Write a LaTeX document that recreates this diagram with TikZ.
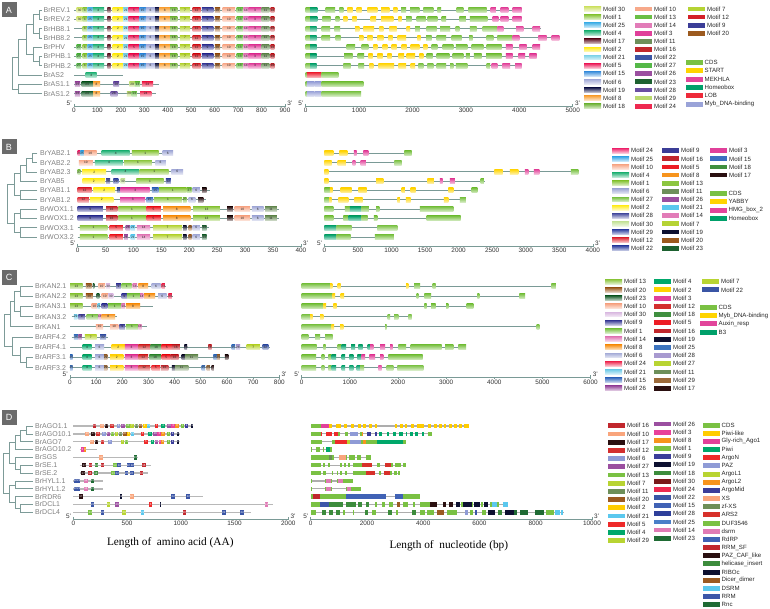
\documentclass[tikz,border=0pt]{standalone}
\usepackage{fontspec}
\setmainfont{Liberation Serif}
\setsansfont{Liberation Sans}

% MEME motif colours (set of panel A, changed per panel below)
\definecolor{m1}{HTML}{8CC63F}
\definecolor{m2}{HTML}{FFEB1A}
\definecolor{m3}{HTML}{E0409A}
\definecolor{m4}{HTML}{2EB67D}
\definecolor{m5}{HTML}{EC1C5A}
\definecolor{m6}{HTML}{A5ACD8}
\definecolor{m7}{HTML}{B5D334}
\definecolor{m8}{HTML}{F9A33A}
\definecolor{m9}{HTML}{3B3D97}
\definecolor{m10}{HTML}{F7A98A}
\definecolor{m11}{HTML}{6D8F5A}
\definecolor{m12}{HTML}{D32027}
\definecolor{m13}{HTML}{6ABF45}
\definecolor{m14}{HTML}{E27CB8}
\definecolor{m15}{HTML}{3D8FDC}
\definecolor{m16}{HTML}{C1272D}
\definecolor{m17}{HTML}{6B2332}
\definecolor{m18}{HTML}{78B843}
\definecolor{m19}{HTML}{1B1E4F}
\definecolor{m20}{HTML}{9C5A1F}
\definecolor{m21}{HTML}{7FD3E8}
\definecolor{m22}{HTML}{3A55A5}
\definecolor{m23}{HTML}{1D6130}
\definecolor{m24}{HTML}{EE2950}
\definecolor{m25}{HTML}{4CB4E8}
\definecolor{m26}{HTML}{9B4FA0}
\definecolor{m27}{HTML}{55B848}
\definecolor{m28}{HTML}{6A4EA2}
\definecolor{m29}{HTML}{BADA6E}
\definecolor{m30}{HTML}{CFE26A}
% domain colours
\definecolor{dcds}{HTML}{7AC143}
\definecolor{dstart}{HTML}{FFD400}
\definecolor{dmekhla}{HTML}{E2459B}
\definecolor{dhbox}{HTML}{00A06A}
\definecolor{dlob}{HTML}{EE2A3A}
\definecolor{dmyblav}{HTML}{9AA3D8}
\definecolor{dyabby}{HTML}{FFD400}
\definecolor{dhmg}{HTML}{E2459B}
\definecolor{dmybyel}{HTML}{FFD400}
\definecolor{dauxin}{HTML}{E2459B}
\definecolor{dbthree}{HTML}{00A06A}
\definecolor{dpiwil}{HTML}{FFCC00}
\definecolor{dglyrich}{HTML}{E2409A}
\definecolor{dpiwi}{HTML}{00A86B}
\definecolor{dargon}{HTML}{EE2A2A}
\definecolor{dpaz}{HTML}{8F9BD6}
\definecolor{dargolone}{HTML}{B8D432}
\definecolor{dargoltwo}{HTML}{F7941D}
\definecolor{dargomid}{HTML}{3A3D9A}
\definecolor{dxs}{HTML}{F9A57C}
\definecolor{dzfxs}{HTML}{6E8F57}
\definecolor{darstwo}{HTML}{D7302A}
\definecolor{dduf}{HTML}{7AC143}
\definecolor{ddsrmp}{HTML}{E07BB5}
\definecolor{drdrp}{HTML}{4062B5}
\definecolor{drrmsf}{HTML}{C1272D}
\definecolor{dpazcaf}{HTML}{2A0F10}
\definecolor{dhelins}{HTML}{3C8C3C}
\definecolor{driboc}{HTML}{0D1030}
\definecolor{ddicer}{HTML}{9B5A22}
\definecolor{ddsrmb}{HTML}{5BC8EE}
\definecolor{drrm}{HTML}{3C56A8}
\definecolor{drnc}{HTML}{1F6B34}
\definecolor{treecol}{HTML}{7D9B98}
\definecolor{axcol}{HTML}{7A9A96}

\def\bh{2.5}
% motif row: key, y, from, to, start/end/motif
\newcommand{\motifrow}[5]{%
  \draw[bbone] (#3,#2) -- (#4,#2);
  \edef\motlist{#5}%
  \foreach \s/\e/\m [count=\i] in \motlist {
    \path[mbox=m\m] (\s,#2-\bh) rectangle (\e,#2+\bh);
    \node[mnum] (#1-\i) at ({(\s+\e)/2},#2) {\m};
  }}
% exon row: y, length, start/end/domain
\newcommand{\exonrow}[3]{%
  \draw[gbone] (0,#1) -- (#2,#1);
  \edef\exlist{#3}%
  \foreach \s/\e/\c in \exlist {
    \path[exon=d\c] (\s,#1-\bh) rectangle (\e,#1+\bh);
  }}
% scale bar: key, y, max, step
\newcommand{\seqaxis}[4]{%
  \draw[axline] (0,#2-2.2) -- (0,#2) -- (#3,#2) -- (#3,#2-2.2);
  \foreach \tk in {0,#4,...,#3}
    \draw[axline] (\tk,#2) -- (\tk,#2+1.2) node[ticklbl] (#1-t\tk) {\tk};
  \node[endlbl, anchor=south east, xshift=-1.5pt] (#1-five) at (0,#2) {5'};
  \node[endlbl, anchor=south west, xshift=1.5pt] (#1-three) at (#3,#2) {3'};
}
% legend column: key, x, y0, dy, swatch style, motifs
\newcommand{\legcol}[6]{%
  \foreach \m [count=\i from 0] in {#6} {
    \path[#5=m\m] (#2,{#3+#4*\i-2.4}) rectangle ++(17,4.8);
    \node[legtxt] (#1-\m) at ({#2+19},{#3+#4*\i}) {Motif \m};
  }}
% domain legend: key, x, y0, dy, colour/label
\newcommand{\domleg}[5]{%
  \foreach \c/\lab [count=\i from 0] in {#5} {
    \fill[fill=d\c] (#2,{#3+#4*\i-2.5}) rectangle ++(16.5,5);
    \node[legtxt] (#1-\i) at ({#2+18.5},{#3+#4*\i}) {\lab};
  }}

\newcommand*{\hdzip}{37/57/1, 57/80/25, 80/128/4, 142/156/17, 165/210/2, 210/232/21,
  232/279/5, 279/307/15, 307/346/6, 346/364/19, 364/410/8, 410/441/18, 452/495/7,
  506/540/12, 545/594/9, 601/623/20, 634/687/10, 694/722/13, 722/744/14, 744/800/3,
  800/833/11, 839/855/16}

\begin{document}
\begin{tikzpicture}[
  x=1pt, y=-1pt,
  tree/.style={draw=treecol, line width=0.7pt},
  gname/.style={font=\sffamily\fontsize{7}{8}\selectfont, text=black!50, anchor=west, inner sep=0pt},
  panel/.style={fill=black!58, text=white, font=\sffamily\fontsize{9}{9}\selectfont,
    minimum width=15pt, minimum height=15pt, inner sep=0pt},
  bbone/.style={draw=axcol, line width=0.8pt},
  gbone/.style={draw=axcol, line width=0.8pt},
  mbox/.style={top color=#1, bottom color=#1!25},
  sbox/.style={fill=#1},
  exon/.style={top color=#1, bottom color=#1!30},
  mnum/.style={font=\sffamily\fontsize{3.2}{3.2}\selectfont, inner sep=0pt, text=black!85},
  axline/.style={draw=axcol, line width=0.7pt},
  ticklbl/.style={font=\sffamily\fontsize{6.4}{7}\selectfont, anchor=north, inner sep=0.8pt, text=black!80},
  endlbl/.style={font=\sffamily\fontsize{6.4}{7}\selectfont, inner sep=0.6pt, text=black!80},
  legtxt/.style={font=\sffamily\fontsize{6.1}{7}\selectfont, anchor=west, inner sep=0pt, text=black!85},
  axtitle/.style={font=\rmfamily\fontsize{11.3}{13}\selectfont},
]
\fill[white] (0,0) rectangle (770,609);
\useasboundingbox (0,0) rectangle (770,609);

%% --- A: HD-ZIP III and AS ------------------------------------------
\begin{scope}
\node[panel] (pA) at (9,10) {A};
\draw[tree] (42,10) -| (39,19.3) -- (42,19.3);
\draw[tree] (42,28.6) -| (39,37.9) -- (42,37.9);
\draw[tree] (39,14.65) -| (33,33.25) -- (39,33.25);
\draw[tree] (42,56.5) -| (39,65.8) -- (42,65.8);
\draw[tree] (42,47.2) -| (33,61.15) -- (39,61.15);
\draw[tree] (33,23.95) -| (26,54.18) -- (33,54.18);
\draw[tree] (26,39.06) -| (18.5,75.1) -- (42,75.1);
\draw[tree] (42,84.4) -| (18.5,93.7) -- (42,93.7);
\draw[tree] (18.5,57.08) -| (12.3,89.05) -- (18.5,89.05);
\foreach \g [count=\i from 0] in {BrREV.1,BrREV.2,BrHB8.1,BrHB8.2,BrPHV,BrPHB.1,BrPHB.2,BrAS2,BrAS1.1,BrAS1.2}
  \node[gname] (gA\i) at (43.5,{10+9.3*\i}) {\g};

\begin{scope}[shift={(74pt,0pt)}, x=0.23444pt]
  \motifrow{pA1}{10}{0}{857}{11/37/30, \hdzip}
  \motifrow{pA2}{19.3}{0}{857}{11/37/30, \hdzip}
  \motifrow{pA3}{28.6}{0}{857}{\hdzip}
  \motifrow{pA4}{37.9}{0}{857}{\hdzip}
  \motifrow{pA5}{47.2}{0}{857}{11/30/27, \hdzip}
  \motifrow{pA6}{56.5}{0}{857}{11/30/27, \hdzip}
  \motifrow{pA7}{65.8}{0}{857}{11/30/27, \hdzip}
  \motifrow{pA8}{75.1}{0}{208}{50/97/4}
  \motifrow{pA9}{84.4}{0}{364}{4/26/26, 33/80/23, 82/111/8, 168/193/28, 236/260/29, 260/282/13, 289/338/24}
  \motifrow{pA10}{93.7}{0}{350}{4/26/26, 33/80/23, 82/111/8, 156/185/28, 225/246/29, 246/268/13, 282/330/24}
  \seqaxis{axA}{106}{900}{100}
\end{scope}

\begin{scope}[shift={(305.7pt,0pt)}, x=0.0534pt]
  \exonrow{10}{4057}{0/81/cds, 81/218/hbox, 374/549/cds, 630/705/cds, 780/880/start, 955/1048/start, 1154/1342/start, 1410/1566/start, 1641/1716/start, 1785/1878/cds, 1953/2128/cds, 2203/2390/cds, 2465/2534/cds, 2827/2952/cds, 3046/3388/cds, 3463/3563/mekhla, 3650/3794/mekhla, 3875/4045/mekhla}
  \exonrow{19.3}{4057}{0/81/cds, 81/218/hbox, 312/468/cds, 562/630/cds, 705/780/start, 874/955/start, 1217/1317/start, 1410/1641/start, 1735/1797/start, 1878/1984/cds, 2078/2246/cds, 2284/2465/cds, 2546/2627/cds, 2877/3001/cds, 3076/3401/cds, 3501/3607/mekhla, 3650/3794/mekhla, 3875/4045/mekhla}
  \exonrow{28.6}{4400}{0/81/cds, 81/206/hbox, 300/456/cds, 537/643/cds, 924/1005/start, 1080/1279/start, 1379/1454/start, 1566/1704/start, 1891/1953/start, 2047/2140/cds, 2265/2452/cds, 2515/2702/cds, 2808/2877/cds, 3076/3201/cds, 3313/3588/cds, 3588/3700/mekhla, 3939/4076/mekhla, 4251/4388/mekhla}
  \exonrow{37.9}{4750}{0/81/cds, 81/206/hbox, 300/456/cds, 562/655/cds, 998/1080/start, 1154/1254/start, 1342/1454/start, 1548/1629/start, 1722/1878/start, 2090/2153/start, 2253/2359/cds, 2452/2627/cds, 2733/2920/cds, 3058/3126/cds, 3388/3513/cds, 3588/3875/cds, 3875/4001/mekhla, 4357/4513/mekhla, 4607/4750/mekhla}
  \exonrow{47.2}{4388}{0/81/cds, 81/206/hbox, 768/924/cds, 1048/1173/cds, 1267/1342/start, 1441/1529/start, 1610/1704/start, 1797/1891/start, 1966/2128/start, 2203/2278/start, 2359/2465/cds, 2565/2764/cds, 2814/3026/cds, 3108/3326/cds, 3388/3669/cds, 3750/3875/mekhla, 4001/4138/mekhla, 4251/4388/mekhla}
  \exonrow{56.5}{4326}{0/81/cds, 81/206/hbox, 718/880/cds, 973/1092/cds, 1173/1254/start, 1342/1441/start, 1529/1610/start, 1735/1841/start, 1891/2047/start, 2128/2203/start, 2265/2377/cds, 2452/2689/cds, 2752/2952/cds, 3001/3076/cds, 3151/3295/cds, 3376/3669/cds, 3750/3875/mekhla, 3982/4107/mekhla, 4188/4326/mekhla}
  \exonrow{65.8}{4057}{0/81/cds, 81/206/hbox, 705/842/cds, 986/1092/cds, 1192/1267/start, 1360/1654/start, 1735/1878/start, 1966/2047/start, 2109/2203/cds, 2278/2390/cds, 2452/2627/cds, 2702/2764/cds, 2814/3026/cds, 3388/3451/cds, 3482/3588/mekhla, 3682/3826/mekhla, 3919/4045/mekhla}
  \exonrow{75.1}{612}{0/20/cds, 20/300/lob, 300/612/cds}
  \exonrow{84.4}{1080}{0/20/cds, 20/160/myblav, 165/300/myblav, 300/1080/cds}
  \exonrow{93.7}{1036}{0/20/cds, 20/160/myblav, 165/300/myblav, 300/1036/cds}
  \seqaxis{axAg}{106}{5000}{1000}
\end{scope}

\legcol{lA1}{584}{9}{8.1}{mbox}{30,1,25,4,17,2,21,5,15,6,19,8,18}
\legcol{lA2}{635}{9}{8.1}{sbox}{10,13,14,3,11,16,22,27,26,23,28,29,24}
\legcol{lA3}{688}{9}{8.1}{sbox}{7,12,9,20}
\domleg{dA}{686}{62.3}{8.4}{cds/CDS, start/START, mekhla/MEKHLA, hbox/Homeobox, lob/LOB, myblav/Myb\_DNA-binding}
\end{scope}

%% --- B: YABBY and WOX ----------------------------------------------
\begin{scope}
\definecolor{m24}{HTML}{EE2A70}\definecolor{m25}{HTML}{38A6E6}
\definecolor{m27}{HTML}{7AC143}\definecolor{m28}{HTML}{4A4FA0}
\definecolor{m30}{HTML}{C5E39A}\definecolor{m29}{HTML}{3A4AA5}
\definecolor{m12}{HTML}{E0323C}\definecolor{m22}{HTML}{3A4AA5}
\definecolor{m5}{HTML}{ED1C24}\definecolor{m8}{HTML}{F7941D}
\definecolor{m13}{HTML}{8CC63F}\definecolor{m21}{HTML}{5BC8EE}
\definecolor{m19}{HTML}{0D1030}\definecolor{m15}{HTML}{3C6FC0}
\definecolor{m18}{HTML}{3F8F3F}\definecolor{m17}{HTML}{2A0F10}
\node[panel] (pB) at (9,147) {B};
\draw[tree] (37.3,153.3) -| (32.3,162.6) -- (37.3,162.6);
\draw[tree] (32.3,157.95) -| (26.7,171.9) -- (37.3,171.9);
\draw[tree] (26.7,164.93) -| (20.7,181.2) -- (37.3,181.2);
\draw[tree] (37.3,190.5) -| (20.7,199.8) -- (37.3,199.8);
\draw[tree] (20.7,173.06) -| (14,195.15) -- (20.7,195.15);
\draw[tree] (37.3,209.1) -| (20.7,218.4) -- (37.3,218.4);
\draw[tree] (37.3,227.7) -| (20.7,237) -- (37.3,237);
\draw[tree] (20.7,213.75) -| (14,232.35) -- (20.7,232.35);
\draw[tree] (14,184.1) -| (7,223.05) -- (14,223.05);
\foreach \g [count=\i from 0] in {BrYAB2.1,BrYAB2.2,BrYAB2.3,BrYAB5,BrYAB1.1,BrYAB1.2,BrWOX1.1,BrWOX1.2,BrWOX3.1,BrWOX3.2}
  \node[gname] (gB\i) at (40,{153.3+9.3*\i}) {\g};

\begin{scope}[shift={(77.7pt,0pt)}, x=0.558pt]
  \motifrow{pB1}{153.3}{0}{171}{0/5/24, 5/11/25, 11/34/10, 43/93/4, 97/145/1, 152/171/6}
  \motifrow{pB2}{162.6}{2}{158}{2/27/10, 31/81/4, 83/133/1, 139/158/6}
  \motifrow{pB3}{171.9}{0}{189}{0/5/27, 8/51/2, 61/110/4, 111/163/1, 168/189/6}
  \motifrow{pB4}{181.2}{8}{167}{9/49/2, 51/58/28, 64/73/29, 77/85/30, 105/154/1, 158/167/22}
  \motifrow{pB5}{190.5}{0}{237}{0/25/12, 28/67/2, 70/77/22, 77/129/3, 133/145/15, 146/195/1, 196/204/27, 206/219/6, 223/231/17}
  \motifrow{pB6}{199.8}{0}{230}{0/20/12, 22/64/2, 76/121/3, 123/135/15, 137/187/1, 189/195/27, 199/211/6, 216/225/17}
  \motifrow{pB7}{209.1}{0}{360}{0/45/9, 51/71/16, 73/122/1, 123/149/5, 153/202/8, 207/255/13, 268/278/17, 281/309/10, 312/333/6, 336/357/11}
  \motifrow{pB8}{218.4}{0}{360}{0/45/9, 51/71/16, 73/122/1, 123/149/5, 153/202/8, 207/255/13, 268/278/17, 281/309/10, 312/333/6, 336/357/11}
  \motifrow{pB9}{227.7}{0}{235}{4/53/1, 57/81/5, 86/94/26, 95/103/21, 106/130/14, 135/187/7, 189/195/19, 199/204/20, 206/219/6, 223/231/23}
  \motifrow{pB10}{237}{0}{231}{4/53/1, 57/81/5, 83/90/26, 95/103/21, 106/130/14, 135/187/7, 189/195/19, 199/204/20, 206/219/6, 223/231/23}
  \seqaxis{axB}{246}{400}{50}
\end{scope}

\begin{scope}[shift={(324.3pt,0pt)}, x=0.067143pt]
  \exonrow{153.3}{1301}{0/134/yabby, 223/343/yabby, 442/482/hmg, 581/655/hmg, 1192/1301/cds}
  \exonrow{162.6}{1152}{0/109/yabby, 199/323/yabby, 422/462/hmg, 541/621/hmg, 1043/1152/cds}
  \exonrow{171.9}{3783}{0/60/yabby, 2532/2656/yabby, 2765/2889/yabby, 2988/3038/hmg, 3122/3202/hmg, 3674/3783/cds}
  \exonrow{181.2}{2393}{0/60/yabby, 770/879/yabby, 1534/1633/yabby, 1723/1763/hmg, 1872/1946/hmg, 2329/2378/cds}
  \exonrow{190.5}{2279}{0/84/cds, 84/124/yabby, 243/407/yabby, 506/631/yabby, 1152/1201/yabby, 1286/1360/yabby, 1847/1921/yabby, 2194/2279/cds}
  \exonrow{199.8}{2110}{0/74/cds, 74/109/yabby, 208/357/yabby, 447/571/yabby, 1087/1127/yabby, 1216/1286/yabby, 1782/1847/yabby, 2021/2110/cds}
  \exonrow{209.1}{1921}{0/134/cds, 308/382/cds, 382/556/hbox, 556/665/cds, 770/819/cds, 1425/1921/cds}
  \exonrow{218.4}{2031}{0/134/cds, 283/357/cds, 357/556/hbox, 556/645/cds, 740/790/cds, 1524/2031/cds}
  \exonrow{227.7}{1087}{0/184/hbox, 184/407/cds, 789/1087/cds}
  \exonrow{237}{1038}{0/184/hbox, 184/392/cds, 755/1038/cds}
  \seqaxis{axBg}{246}{4000}{500}
\end{scope}

\legcol{lB1}{612}{150.7}{8.13}{mbox}{24,25,10,4,1,6,27,2,28,30,29,12,22}
\legcol{lB2}{662}{150.7}{8.13}{sbox}{9,16,5,8,13,11,26,21,14,7,19,20,23}
\legcol{lB3}{710}{150.7}{8.13}{sbox}{3,15,18,17}
\domleg{dB}{710}{193.3}{8.45}{cds/CDS, yabby/YABBY, hmg/HMG\_box\_2, hbox/Homeobox}
\end{scope}

%% --- C: KANADI and ARF ---------------------------------------------
\begin{scope}
\definecolor{m13}{HTML}{8CC63F}\definecolor{m30}{HTML}{D9B8E0}
\definecolor{m1}{HTML}{7AC143}\definecolor{m8}{HTML}{F7941D}
\definecolor{m21}{HTML}{6FCBE8}\definecolor{m15}{HTML}{3C6FC0}
\definecolor{m4}{HTML}{00A86B}\definecolor{m2}{HTML}{FFD200}
\definecolor{m12}{HTML}{D32F2F}\definecolor{m18}{HTML}{3F8F3F}
\definecolor{m5}{HTML}{ED1C24}\definecolor{m19}{HTML}{0D1030}
\definecolor{m25}{HTML}{3C74C0}\definecolor{m28}{HTML}{A89AD0}
\definecolor{m27}{HTML}{B8D432}\definecolor{m29}{HTML}{9C6A3A}
\definecolor{m17}{HTML}{2A0F10}\definecolor{m7}{HTML}{B8D432}
\node[panel] (pC) at (9,277.5) {C};
\draw[tree] (32.7,286) -| (20.7,296.2) -- (32.7,296.2);
\draw[tree] (32.7,306.4) -| (20.7,316.6) -- (32.7,316.6);
\draw[tree] (20.7,291.1) -| (14,311.5) -- (20.7,311.5);
\draw[tree] (14,301.3) -| (10,326.8) -- (32.7,326.8);
\draw[tree] (32.7,357.4) -| (26.7,367.6) -- (32.7,367.6);
\draw[tree] (32.7,347.2) -| (20.7,362.5) -- (26.7,362.5);
\draw[tree] (32.7,337) -| (12,354.85) -- (20.7,354.85);
\draw[tree] (10,314.05) -| (4,345.93) -- (12,345.93);
\foreach \g [count=\i from 0] in {BrKAN2.1,BrKAN2.2,BrKAN3.1,BrKAN3.2,BrKAN1,BrARF4.2,BrARF4.1,BrARF3.1,BrARF3.2}
  \node[gname] (gC\i) at (35,{286+10.2*\i}) {\g};

\begin{scope}[shift={(70pt,0pt)}, x=0.26163pt]
  \motifrow{pC1}{286}{0}{366}{0/48/13, 61/83/20, 87/93/23, 108/134/10, 138/153/30, 176/194/9, 197/236/1, 239/257/14, 261/299/8, 312/346/6, 350/363/24}
  \motifrow{pC2}{296.2}{0}{392}{0/48/13, 61/87/20, 102/112/23, 121/146/10, 146/166/30, 197/217/9, 217/268/1, 268/280/14, 283/325/8, 337/369/6, 376/389/24}
  \motifrow{pC3}{306.4}{0}{318}{0/48/13, 83/104/10, 106/115/21, 121/143/9, 146/197/1, 197/210/14, 214/268/8}
  \motifrow{pC4}{316.6}{6}{181}{15/28/21, 32/57/9, 64/108/1, 108/121/14, 121/172/8}
  \motifrow{pC5}{326.8}{0}{293}{99/127/10, 153/185/10, 189/210/9, 214/261/1, 261/274/14}
  \motifrow{pC6}{337}{6}{146}{15/32/25, 32/45/26, 57/102/7, 115/138/22}
  \motifrow{pC7}{347.2}{0}{764}{48/83/4, 96/130/6, 159/210/2, 210/261/3, 261/308/12, 308/350/18, 350/389/5, 389/420/16, 437/448/19, 529/541/16, 618/631/25, 634/650/28, 675/726/7, 736/758/22}
  \motifrow{pC8}{357.4}{0}{605}{0/10/25, 48/83/4, 96/130/6, 130/143/29, 153/204/2, 210/261/3, 261/299/12, 303/347/18, 350/385/5, 385/415/16, 427/439/19, 439/490/11, 548/561/25, 561/573/29, 592/605/17}
  \motifrow{pC9}{367.6}{0}{552}{0/10/25, 48/83/4, 96/130/6, 130/143/29, 153/204/2, 210/261/3, 261/306/12, 312/344/5, 347/376/16, 389/401/19, 401/452/11, 503/516/25, 522/535/29, 541/550/17}
  \seqaxis{axC}{377.5}{800}{100}
\end{scope}

\begin{scope}[shift={(301.7pt,0pt)}, x=0.04814pt]
  \exonrow{286}{5290}{0/589/cds, 589/637/mybyel, 748/810/mybyel, 2168/2216/mybyel, 2334/2459/cds, 2722/2784/cds, 5186/5277/cds}
  \exonrow{296.2}{4640}{0/644/cds, 644/693/mybyel, 810/880/mybyel, 2389/2424/cds, 2548/2687/cds, 3650/3692/cds, 4522/4640/cds}
  \exonrow{306.4}{3566}{0/450/cds, 450/505/mybyel, 658/727/mybyel, 2548/2597/cds, 2687/2784/cds, 2999/3047/cds, 3428/3566/cds}
  \exonrow{316.6}{2299}{0/173/cds, 173/229/mybyel, 381/450/mybyel, 1787/1835/cds, 1918/2008/cds, 2216/2285/cds}
  \exonrow{326.8}{4937}{0/623/cds, 623/672/mybyel, 796/866/mybyel, 1731/1766/cds, 4882/4937/cds}
  \exonrow{337}{644}{0/139/cds, 277/381/cds, 485/644/cds}
  \exonrow{347.2}{3414}{0/312/cds, 450/499/cds, 748/831/cds, 831/921/bthree, 1025/1108/bthree, 1177/1267/bthree, 1371/1419/bthree, 1419/1489/auxin, 1627/1731/auxin, 1835/1891/auxin, 2008/2168/cds, 2264/2908/cds, 2978/3151/cds, 3255/3414/cds}
  \exonrow{357.4}{2514}{0/298/cds, 415/471/cds, 554/623/cds, 623/713/bthree, 831/900/bthree, 990/1074/bthree, 1156/1247/bthree, 1247/1316/auxin, 1406/1523/auxin, 1627/1696/auxin, 1800/2514/cds}
  \exonrow{367.6}{2528}{0/298/cds, 415/471/cds, 554/623/cds, 623/713/bthree, 831/900/bthree, 990/1074/bthree, 1143/1212/bthree, 1212/1295/cds, 1593/1662/auxin, 1766/1904/cds, 1988/2528/cds}
  \seqaxis{axCg}{377.5}{6000}{1000}
\end{scope}

\legcol{lC1}{605}{281.7}{8.2}{mbox}{13,20,23,10,30,9,1,14,8,6,24,21,15,26}
\legcol{lC2}{654}{281.7}{8.2}{sbox}{4,2,3,12,18,5,16,19,25,28,27,11,29,17}
\legcol{lC3}{702}{281.7}{8.2}{sbox}{7,22}
\domleg{dC}{700}{307.3}{8.33}{cds/CDS, mybyel/Myb\_DNA-binding, auxin/Auxin\_resp, bthree/B3}
\end{scope}

%% --- D: small RNA pathway genes ------------------------------------
\begin{scope}[mbox/.style={fill=#1}, exon/.style={fill=#1},
  bbone/.style={draw=black!28, line width=1.5pt},
  gbone/.style={draw=black!32, line width=1.1pt},
  mnum/.style={font=\sffamily\fontsize{2.8}{2.8}\selectfont, inner sep=0pt, text=white}]
\def\bh{2.2}
\definecolor{m16}{HTML}{C1272D}\definecolor{m10}{HTML}{F9A57C}
\definecolor{m17}{HTML}{2A0F10}\definecolor{m12}{HTML}{D32F2F}
\definecolor{m6}{HTML}{8F9BD6}\definecolor{m27}{HTML}{9B4FA0}
\definecolor{m13}{HTML}{7AC143}\definecolor{m7}{HTML}{B8D432}
\definecolor{m11}{HTML}{6E8F5A}\definecolor{m20}{HTML}{9B5A22}
\definecolor{m2}{HTML}{FFCC00}\definecolor{m21}{HTML}{5BC8EE}
\definecolor{m5}{HTML}{EE2A2A}\definecolor{m4}{HTML}{00A86B}
\definecolor{m29}{HTML}{B8D432}\definecolor{m26}{HTML}{9B4FA0}
\definecolor{m3}{HTML}{E8409A}\definecolor{m8}{HTML}{F7941D}
\definecolor{m1}{HTML}{7AC143}\definecolor{m9}{HTML}{3A3D9A}
\definecolor{m19}{HTML}{0D1030}\definecolor{m18}{HTML}{3C8C3C}
\definecolor{m30}{HTML}{7A1A1A}\definecolor{m24}{HTML}{EE2A50}
\definecolor{m22}{HTML}{3A55A5}\definecolor{m15}{HTML}{4062B5}
\definecolor{m28}{HTML}{2E3F9A}\definecolor{m25}{HTML}{4A7FC8}
\definecolor{m14}{HTML}{E07BB5}\definecolor{m23}{HTML}{1F6B34}
\node[panel] (pD) at (9,417.5) {D};
\draw[tree] (32.7,426) -| (26.7,433.85) -- (32.7,433.85);
\draw[tree] (26.7,429.93) -| (20.7,441.7) -- (32.7,441.7);
\draw[tree] (20.7,435.81) -| (15.7,449.55) -- (32.7,449.55);
\draw[tree] (32.7,465.25) -| (20.7,473.1) -- (32.7,473.1);
\draw[tree] (32.7,457.4) -| (15.7,469.18) -- (20.7,469.18);
\draw[tree] (15.7,442.68) -| (9.3,463.29) -- (15.7,463.29);
\draw[tree] (32.7,480.95) -| (15.7,488.8) -- (32.7,488.8);
\draw[tree] (32.7,504.5) -| (20.7,512.35) -- (32.7,512.35);
\draw[tree] (32.7,496.65) -| (15.7,508.43) -- (20.7,508.43);
\draw[tree] (15.7,484.88) -| (9.3,502.54) -- (15.7,502.54);
\draw[tree] (9.3,452.98) -| (3.3,493.71) -- (9.3,493.71);
\foreach \g [count=\i from 0] in {BrAGO1.1,BrAGO10.1,BrAGO7,BrAGO10.2,BrSGS,BrSE.1,BrSE.2,BrHYL1.1,BrHYL1.2,BrRDR6,BrDCL1,BrDCL4}
  \node[gname] (gD\i) at (35,{426+7.85*\i}) {\g};

\begin{scope}[shift={(73.3pt,0pt)}, x=0.1075pt]
  \motifrow{pD1}{426}{0}{1116}{181/215/16, 250/284/10, 293/327/17, 343/377/12, 405/439/6, 448/482/27, 491/525/13, 529/563/7, 572/606/11, 609/643/20, 647/681/2, 684/718/21, 758/792/5, 820/854/4, 876/910/26, 913/947/3, 950/984/8, 1000/1034/1, 1037/1071/9, 1093/1109/19}
  \motifrow{pD2}{433.85}{0}{992}{113/147/10, 169/203/17, 212/246/12, 268/302/6, 309/343/27, 349/383/13, 386/420/7, 423/457/11, 461/495/20, 498/532/2, 535/569/21, 628/662/5, 696/730/4, 746/780/26, 783/817/3, 820/854/8, 870/904/1, 907/941/9, 969/985/19}
  \motifrow{pD3}{441.7}{0}{992}{154/188/10, 200/234/17, 256/290/12, 324/358/6, 442/476/7, 479/513/13, 659/693/5, 721/755/4, 758/792/26, 795/818/3, 818/848/8, 870/904/1, 907/941/9, 969/985/19}
  \motifrow{pD4}{449.55}{62}{217}{72/98/3, 98/122/8}
  \motifrow{pD5}{457.4}{0}{605}{241/275/10, 560/594/23}
  \motifrow{pD6}{465.25}{62}{719}{85/119/17, 144/178/16, 200/234/18, 256/290/16, 371/405/13, 411/445/22, 495/529/22, 532/566/22, 640/674/16}
  \motifrow{pD7}{473.1}{62}{698}{76/110/17, 138/172/16, 194/228/18, 355/389/13, 392/426/22, 479/513/22, 526/560/22, 619/653/16}
  \motifrow{pD8}{480.95}{0}{279}{2/36/22, 36/66/22, 101/135/14, 160/194/23}
  \motifrow{pD9}{488.8}{0}{279}{2/36/22, 36/66/22, 101/135/14, 160/194/23}
  \motifrow{pD10}{496.65}{0}{1209}{54/88/17, 435/451/19, 526/560/10, 913/947/22, 1053/1087/22}
  \motifrow{pD11}{504.5}{0}{1860}{163/197/22, 309/343/29, 392/426/26, 702/736/5, 804/820/19, 1781/1815/14}
  \motifrow{pD12}{512.35}{0}{1650}{141/175/13, 256/290/22, 457/491/29, 628/662/21, 1016/1050/16, 1384/1418/22, 1555/1589/22}
  \seqaxis{axD}{519}{2000}{500}
\end{scope}

\begin{scope}[shift={(310.7pt,0pt)}, x=0.028125pt]
  \exonrow{426}{5634}{0/356/cds, 356/664/glyrich, 664/771/piwil, 890/1067/piwil, 1186/1305/piwil, 1435/1542/piwil, 1672/1779/piwil, 1874/1969/piwil, 2064/2170/piwil, 2289/2372/piwil, 3001/3084/piwil, 3178/3273/piwil, 3356/3439/piwil, 3558/3677/piwil, 3795/4032/piwil, 4163/4270/piwil, 4400/4483/piwil, 4578/4661/piwil, 4744/4815/piwil, 4934/5017/piwil, 5100/5195/piwil, 5290/5373/piwil, 5456/5634/piwil}
  \exonrow{433.85}{4305}{0/356/cds, 368/403/argon, 546/747/argon, 830/961/argon, 961/1044/cds, 1222/1341/cds, 1400/1697/paz, 1758/1816/cds, 1816/1875/argoltwo, 1993/2147/argomid, 2289/2372/argomid, 2443/2526/piwi, 2703/2786/piwi, 2917/3036/piwi, 3155/3273/piwi, 3392/3439/piwi, 3534/3629/piwi, 3712/3831/piwi, 3950/4032/piwi, 4187/4305/cds}
  \exonrow{441.7}{3392}{0/391/cds, 747/866/cds, 866/1281/argon, 1281/1400/argolone, 1400/1779/paz, 1779/1874/cds, 1874/1969/argoltwo, 1969/2372/cds, 2372/3273/piwi, 3273/3392/cds}
  \exonrow{449.55}{747}{0/36/cds, 190/332/cds, 451/486/cds, 546/688/piwi, 688/747/cds}
  \exonrow{457.4}{2147}{0/664/cds, 664/747/zfxs, 747/830/cds, 1020/1257/xs, 1257/1305/cds, 1376/1577/cds, 1660/1779/cds, 1969/2147/cds}
  \exonrow{465.25}{3392}{0/356/cds, 451/510/cds, 628/688/cds, 1044/1103/cds, 1186/1257/cds, 1341/1400/cds, 1518/1814/cds, 1814/2170/arstwo, 2360/2455/cds, 2631/2862/arstwo, 2862/2917/cds, 3001/3214/cds, 3297/3392/cds}
  \exonrow{473.1}{3178}{0/356/cds, 451/546/cds, 747/806/cds, 925/984/cds, 1044/1103/cds, 1222/1281/cds, 1518/1969/cds, 1969/2289/arstwo, 2443/2490/cds, 2621/2823/arstwo, 2823/2882/cds, 2965/3060/cds, 3120/3178/cds}
  \exonrow{480.95}{1494}{0/24/cds, 510/546/cds, 546/712/dsrmp, 712/747/cds, 949/984/cds, 984/1139/dsrmp, 1139/1494/cds}
  \exonrow{488.8}{1791}{0/24/cds, 510/546/cds, 546/712/dsrmp, 712/747/cds, 1245/1281/cds, 1281/1435/dsrmp, 1435/1791/cds}
  \exonrow{496.65}{3890}{0/95/cds, 95/332/rrmsf, 332/1257/cds, 1257/2680/rdrp, 3001/3273/rdrp, 3273/3890/cds}
  \exonrow{504.5}{7033}{0/332/cds, 332/664/rrm, 664/1139/helins, 1257/1613/helins, 1696/1815/helins, 1969/2087/helins, 2289/2372/cds, 2526/2645/cds, 2799/2941/cds, 3060/3178/dicer, 3297/3475/cds, 3629/3712/cds, 3890/4246/cds, 4246/4483/pazcaf, 4720/4800/pazcaf, 4934/5076/pazcaf, 5171/5313/riboc, 5337/5408/cds, 5432/5728/riboc, 5728/5788/cds, 5811/6025/riboc, 6049/6143/cds, 6167/6321/riboc, 6381/6440/cds, 6440/6618/dsrmb, 6618/6713/cds, 6855/7033/dsrmb}
  \exonrow{512.35}{9014}{0/190/cds, 391/546/helins, 664/783/helins, 901/1044/helins, 1139/1222/cds, 1500/1540/cds, 1933/2052/helins, 2170/2325/cds, 2763/2882/helins, 3036/3119/cds, 3594/3748/helins, 3890/4068/cds, 4127/4388/cds, 4483/4744/dicer, 4839/5195/cds, 5491/5610/paz, 5669/5788/cds, 5847/5930/rrm, 6084/6238/cds, 6321/6559/riboc, 6677/6796/helins, 6914/7235/riboc, 7235/7329/rnc, 7448/7709/rnc, 7982/8278/rnc, 8373/8634/cds, 8693/8848/dsrmb, 8895/8966/dsrmb}
  \seqaxis{axDg}{519}{10000}{2000}
\end{scope}

\node[axtitle] (tAA) at (170.3,543) {Length of~ amino acid (AA)};
\node[axtitle] (tbp) at (448.8,546) {Length of~ nucleotide (bp)};

\legcol{lD1}{608}{425.7}{8.21}{sbox}{16,10,17,12,6,27,13,7,11,20,2,21,5,4,29}
\legcol{lD2}{654}{424}{8.16}{sbox}{26,3,8,1,9,19,18,30,24,22,15,28,25,14,23}
\domleg{dD}{703}{425}{8.17}{cds/CDS, piwil/Piwi-like, glyrich/Gly-rich\_Ago1, piwi/Piwi, argon/ArgoN, paz/PAZ, argolone/ArgoL1, argoltwo/ArgoL2, argomid/ArgoMid, xs/XS, zfxs/zf-XS, arstwo/ARS2, duf/DUF3546, dsrmp/dsrm, rdrp/RdRP, rrmsf/RRM\_SF, pazcaf/PAZ\_CAF\_like, helins/helicase\_insert, riboc/RIBOc, dicer/Dicer\_dimer, dsrmb/DSRM, rrm/RRM, rnc/Rnc}
\end{scope}
\end{tikzpicture}
\end{document}
